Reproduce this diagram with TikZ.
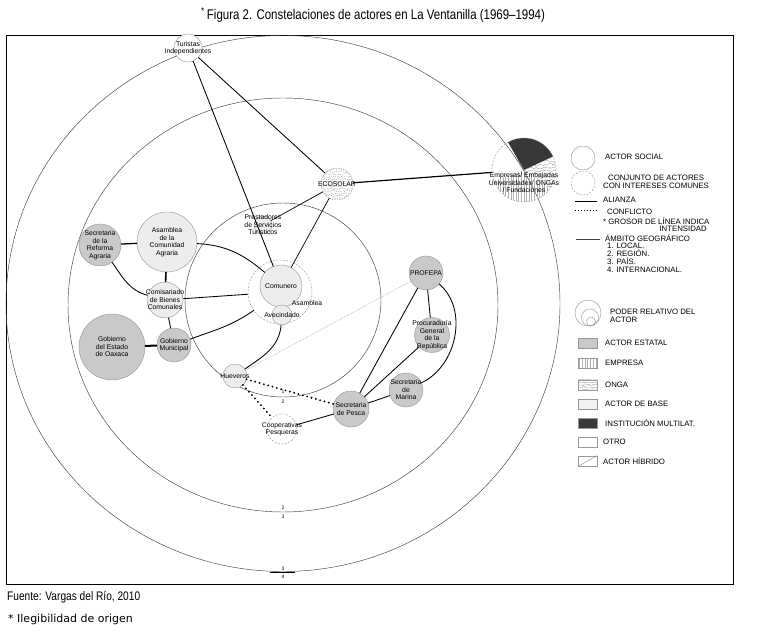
\documentclass[tikz,border=0pt]{standalone}
\usepackage{fontspec}
\setmainfont{Liberation Sans}
\newfontfamily\condfont[FakeStretch=0.82]{Liberation Sans}
\newfontfamily\notefont{DejaVu Sans}
\usetikzlibrary{decorations.pathmorphing}

\begin{document}
\begin{tikzpicture}[x=1pt, y=1pt,
  font=\fontsize{6.8}{7.5}\selectfont,
  actor/.style={circle, draw=gray!80, line width=0.45pt, inner sep=0pt, outer sep=0pt, fill=white},
  estatal/.style={actor, fill=gray!42},
  debase/.style={actor, fill=gray!14},
  conjunto/.style={actor, dash pattern=on 2pt off 1.5pt},
  squig/.style={gray!85, line width=0.3pt, decorate, decoration={random steps, segment length=1.5pt, amplitude=1pt}},
  onga/.style={path picture={\foreach \k in {-9,...,9} \draw[squig] ([yshift=\k*2.4pt]path picture bounding box.west) -- ([yshift=\k*2.4pt]path picture bounding box.east);}},
  empresa/.style={path picture={\foreach \k in {-12,...,12} \draw[gray!65, line width=0.3pt] ([xshift=\k*2.8pt]path picture bounding box.north) -- ([xshift=\k*2.8pt]path picture bounding box.south);}},
  lbl/.style={align=center, inner sep=0pt},
  alz/.style={line width=0.85pt},
  conf/.style={line width=2.1pt, line cap=round, dash pattern=on 0pt off 4.5pt},
  ring/.style={draw=black!75, line width=0.45pt},
  leg/.style={font=\fontsize{7.8}{8.1}\selectfont, inner sep=0pt, anchor=west, align=left},
  swatch/.style={draw=gray!80, line width=0.45pt, minimum width=19pt, minimum height=10.5pt, inner sep=0pt},
  lvl/.style={font=\fontsize{5}{5}\selectfont, inner sep=0pt}]
\useasboundingbox (0,0) rectangle (762,643);
\pgfmathsetseed{7}
\node[font=\condfont\fontsize{14}{14}\selectfont, inner sep=0pt] (title) at (373,628) {\textsuperscript{*}\,Figura 2. Constelaciones de actores en La Ventanilla (1969–1994)};
\draw[line width=0.8pt] (6,59) rectangle (733,608);
\draw[ring] (283,339.5) ellipse [x radius=277, y radius=268];
\draw[ring] (283,338) ellipse [x radius=215, y radius=207];
\draw[ring] (283,343) ellipse [x radius=98, y radius=97];
\node[lvl] (lv1) at (283,251) {1};
\node[lvl] (lv2) at (283,241) {2};
\node[lvl] (lv2b) at (283,135) {2};
\node[lvl] (lv3) at (283,126) {3};
\node[lvl] (lv3b) at (283,74) {3};
\node[lvl] (lv4) at (283,66) {4};
\draw[line width=0.8pt] (270,71) -- (295,71);

\node[actor, minimum size=28pt, label={[lbl]center:Turistas\\Independientes}] (tur) at (188,595) {};
\node[actor, onga, dash pattern=on 1.5pt off 1pt, minimum size=32pt, label={[lbl]center:ECOSOLAR}] (eco) at (337,459) {};
\node[debase, minimum size=18pt, label={[lbl]center:Prestadores\\de Servicios\\Turísticos}] (pst) at (263,418) {};
\node[debase, minimum size=60pt, label={[lbl]center:Asamblea\\de la\\Comunidad\\Agraria}] (asam) at (167,401) {};
\node[estatal, minimum size=42pt, label={[lbl]center:Secretaria\\de la\\Reforma\\Agraria}] (sra) at (100,398) {};
\node[debase, minimum size=36pt, label={[lbl]center:Comisariado\\de Bienes\\Comunales}] (cbc) at (165,343) {};
\node[estatal, minimum size=66pt, label={[lbl]center:Gobierno\\del Estado\\de Oaxaca}] (goax) at (112,296) {};
\node[estatal, minimum size=34pt, label={[lbl]center:Gobierno\\Municipal}] (gmun) at (174,298) {};
\node[conjunto, fill=none, minimum size=64pt] (grp) at (280,351) {};
\node[debase, minimum size=42pt, label={[lbl]center:Comunero}] (com) at (281,357) {};
\node[debase, minimum size=20pt, label={[lbl]center:Avecindado}] (avec) at (282,328) {};
\node[lbl] (asm-t) at (307,340) {Asamblea};
\node[debase, minimum size=24pt, label={[lbl]center:Hueveros}] (huev) at (235,267) {};
\node[conjunto, minimum size=30pt, label={[lbl]center:Cooperativas\\Pesqueras}] (coop) at (282,214) {};
\node[estatal, minimum size=36pt, label={[lbl]center:Secretaria\\de Pesca}] (pesca) at (351,234) {};
\node[estatal, minimum size=34pt, label={[lbl]center:PROFEPA}] (prof) at (426,370) {};
\node[estatal, minimum size=35pt, label={[lbl]center:Procuraduría\\General\\de la\\República}] (pgr) at (432,308) {};
\node[estatal, minimum size=34pt, label={[lbl]center:Secretaria\\de\\Marina}] (mar) at (406,253) {};

\node[actor, draw=none, fill=none, minimum size=64pt] (emp) at (524,473) {};
\begin{scope}
  \clip (emp.center) \foreach \a in {-35,-30,...,25} {-- (emp.\a)} -- cycle;
  \foreach \k in {0,...,13} \draw[squig] (520,440+\k*3.2) -- (560,440+\k*3.2);
\end{scope}
\begin{scope}
  \clip (emp.center) \foreach \a in {200,205,...,325} {-- (emp.\a)} -- cycle;
  \foreach \k in {0,...,26} \draw[gray!60, line width=0.3pt] (490+\k*2.6,440) -- (490+\k*2.6,475);
\end{scope}
\fill[black!78] (emp.center) \foreach \a in {25,30,...,120} {-- (emp.\a)} -- cycle;
\draw[gray!80, line width=0.45pt, dash pattern=on 2pt off 1.5pt] (emp.center) circle[radius=32];
\node[lbl] (emp-t) at (524,460) {Empresas/ Embajadas\\Universidades/ ONGAs\\/ Fundaciones};

\draw[alz] (tur) -- (com);
\draw[alz] (tur) -- (eco);
\draw[alz, line width=1.2pt] (eco) -- (emp);
\draw[alz, line width=0.7pt] (eco) -- (pst);
\draw[alz, line width=0.7pt] (eco) -- (com);
\draw[alz] (asam) to[out=-3, in=140] (com);
\draw[alz, line width=1.3pt] (sra) -- (asam);
\draw[alz] (sra) to[out=-55, in=165] (cbc);
\draw[alz, line width=1.6pt] (asam) -- (cbc);
\draw[alz] (cbc) -- (grp);
\draw[alz] (cbc) -- (gmun);
\draw[alz, line width=2pt] (goax) -- (gmun);
\draw[alz] (gmun) to[out=20, in=215] (grp);
\draw[alz] (avec) to[out=-95, in=35] (huev);
\draw[gray!70, line width=0.6pt, densely dotted] (huev) -- (prof);
\draw[conf] (huev) -- (pesca);
\draw[conf] (huev) -- (coop);
\draw[alz] (coop) -- (pesca);
\draw[alz] (pesca) -- (prof);
\draw[alz] (pesca) -- (pgr);
\draw[alz] (pesca) -- (mar);
\draw[alz] (prof) -- (pgr);
\draw[alz] (prof) to[out=-40, in=25] (mar);

\node[actor, minimum size=24pt] (l-soc) at (583,485) {};
\node[leg] (l-soc-t) at (605,486) {ACTOR SOCIAL};
\node[conjunto, minimum size=24pt] (l-conj) at (583,460) {};
\node[leg, align=center] (l-conj-t) at (603,461) {CONJUNTO DE ACTORES\\CON INTERESES COMUNES};
\draw[alz] (575,442) -- (597,442);
\node[leg] (l-alz) at (603,443) {ALIANZA};
\draw[line width=1pt, dash pattern=on 1pt off 2pt] (575,432) -- (597,432);
\node[leg] (l-conf) at (607,431) {CONFLICTO};
\node[leg] (l-gros) at (603,422) {* GROSOR DE LÍNEA INDICA};
\node[leg, anchor=east] (l-int) at (707,414) {INTENSIDAD};
\draw[ring] (576,404) -- (600,404);
\node[leg] (l-amb) at (605,405) {ÁMBITO GEOGRÁFICO};
\node[leg, anchor=north west] (l-niv) at (607,400) {1. LOCAL.\\2. REGIÓN.\\3. PAÍS.\\4. INTERNACIONAL.};
\node[actor, fill=none, minimum size=26pt] (l-pod1) at (588,330) {};
\node[actor, fill=none, minimum size=17pt] (l-pod2) at (590,325.5) {};
\node[actor, fill=none, minimum size=9pt] (l-pod3) at (591,321.5) {};
\node[leg] (l-pod-t) at (610,327) {PODER RELATIVO DEL\\ACTOR};
\node[swatch, fill=gray!42] (l-est) at (587.5,300) {};
\node[leg] (l-est-t) at (605,300) {ACTOR ESTATAL};
\node[swatch, empresa] (l-emp) at (587.5,280) {};
\node[leg] (l-emp-t) at (605,280) {EMPRESA};
\node[swatch, onga] (l-ong) at (587.5,258) {};
\node[leg] (l-ong-t) at (605,258) {ONGA};
\node[swatch, fill=gray!12] (l-bas) at (587.5,239) {};
\node[leg] (l-bas-t) at (605,239) {ACTOR DE BASE};
\node[swatch, fill=black!78] (l-mul) at (587.5,220) {};
\node[leg] (l-mul-t) at (605,220) {INSTITUCIÓN MULTILAT.};
\node[swatch, fill=white] (l-otr) at (587.5,201) {};
\node[leg] (l-otr-t) at (603,201) {OTRO};
\node[swatch, fill=white] (l-hib) at (587.5,182) {};
\draw[gray!80, line width=0.45pt] (l-hib.south west) -- (l-hib.north east);
\node[leg] (l-hib-t) at (603,182) {ACTOR HÍBRIDO};

\node[font=\condfont\fontsize{12.4}{12.4}\selectfont, anchor=west, inner sep=0pt] (fuente) at (7,46) {Fuente: Vargas del Río, 2010};
\node[font=\notefont\fontsize{11}{11}\selectfont, anchor=west, inner sep=0pt] (nota) at (8,24) {* Ilegibilidad de origen};
\end{tikzpicture}
\end{document}
